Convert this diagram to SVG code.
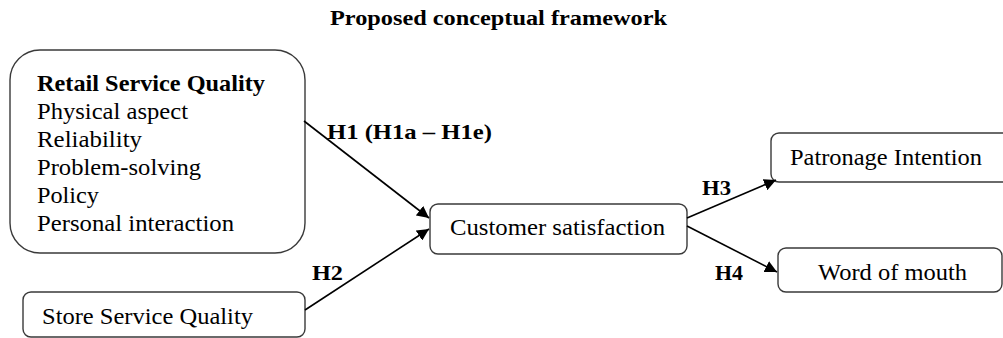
<svg xmlns="http://www.w3.org/2000/svg" width="1003" height="338" viewBox="0 0 1003 338">
<style>
.box{fill:#fff;stroke:#3a3a3a;stroke-width:1.4}
.t{font-family:"Liberation Serif","Times New Roman",serif;font-size:23px;fill:#000}
.b{font-weight:bold}
.lbl{font-family:"Liberation Serif","Times New Roman",serif;font-size:21px;font-weight:bold;fill:#000}
.ttl{font-family:"Liberation Serif","Times New Roman",serif;font-size:20px;font-weight:bold;fill:#000}
.c{stroke:#000;stroke-width:1.6;fill:none;marker-end:url(#ah)}
</style>
<defs>
<marker id="ah" viewBox="0 0 10 10" refX="10" refY="5" markerWidth="12" markerHeight="12" markerUnits="userSpaceOnUse" orient="auto">
<path d="M0,0 L10,5 L0,10 z" fill="#000"/>
</marker>
</defs>
<rect width="1003" height="338" fill="#fff"/>
<text class="ttl" x="330" y="25" textLength="337" lengthAdjust="spacingAndGlyphs">Proposed  conceptual  framework</text>
<g id="retail">
<rect class="box" x="10" y="50" width="295" height="203" rx="30"/>
<text class="t b" x="37" y="91" textLength="228" lengthAdjust="spacingAndGlyphs">Retail Service Quality</text>
<text class="t" x="37" y="119" textLength="151" lengthAdjust="spacingAndGlyphs">Physical aspect</text>
<text class="t" x="37" y="147" textLength="105" lengthAdjust="spacingAndGlyphs">Reliability</text>
<text class="t" x="37" y="175" textLength="164" lengthAdjust="spacingAndGlyphs">Problem-solving</text>
<text class="t" x="37" y="203" textLength="62" lengthAdjust="spacingAndGlyphs">Policy</text>
<text class="t" x="37" y="231" textLength="197" lengthAdjust="spacingAndGlyphs">Personal interaction</text>
</g>
<g id="store">
<rect class="box" x="23" y="292" width="282" height="45" rx="8"/>
<text class="t" x="42" y="324" textLength="211" lengthAdjust="spacingAndGlyphs">Store Service Quality</text>
</g>
<g id="satisfaction">
<rect class="box" x="430" y="204" width="257" height="50" rx="8"/>
<text class="t" x="450" y="235" textLength="215" lengthAdjust="spacingAndGlyphs">Customer satisfaction</text>
</g>
<g id="patronage">
<rect class="box" x="771" y="133" width="250" height="49" rx="8"/>
<text class="t" x="790" y="165" textLength="192" lengthAdjust="spacingAndGlyphs">Patronage Intention</text>
</g>
<g id="wom">
<rect class="box" x="778" y="248" width="224" height="44" rx="8"/>
<text class="t" x="818" y="280" textLength="149" lengthAdjust="spacingAndGlyphs">Word of mouth</text>
</g>
<g id="connectors">
<line class="c" x1="304" y1="121" x2="429" y2="218"/>
<line class="c" x1="305" y1="310" x2="429" y2="229"/>
<line class="c" x1="687" y1="218" x2="776" y2="180"/>
<line class="c" x1="687" y1="226" x2="777" y2="272"/>
<text class="lbl" x="327" y="139" textLength="165" lengthAdjust="spacingAndGlyphs">H1 (H1a – H1e)</text>
<text class="lbl" x="312" y="280" textLength="31" lengthAdjust="spacingAndGlyphs">H2</text>
<text class="lbl" x="702" y="195" textLength="29" lengthAdjust="spacingAndGlyphs">H3</text>
<text class="lbl" x="715" y="280" textLength="28" lengthAdjust="spacingAndGlyphs">H4</text>
</g>
</svg>
